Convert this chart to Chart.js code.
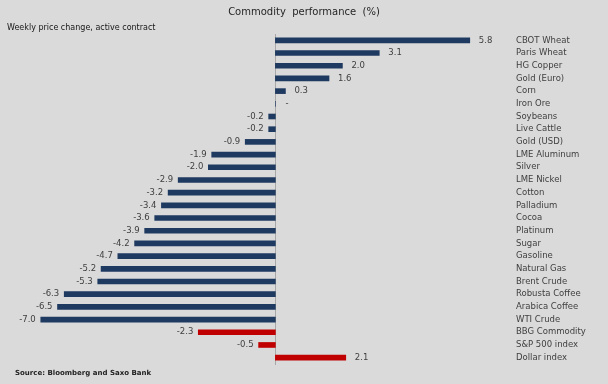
<!DOCTYPE html>
<html>
<head>
<meta charset="utf-8">
<script src="https://cdn.jsdelivr.net/npm/chart.js@4/dist/chart.umd.min.js"></script>
<style>
html,body{margin:0;padding:0;background:#dadada;}
#wrap{width:608px;height:384px;position:relative;}
</style>
</head>
<body>
<div id="wrap"><canvas id="c" width="608" height="384"></canvas></div>
<script>
const categories = ["CBOT Wheat","Paris Wheat","HG Copper","Gold (Euro)","Corn","Iron Ore","Soybeans","Live Cattle","Gold (USD)","LME Aluminum","Silver","LME Nickel","Cotton","Palladium","Cocoa","Platinum","Sugar","Gasoline","Natural Gas","Brent Crude","Robusta Coffee","Arabica Coffee","WTI Crude","BBG Commodity","S&P 500 index","Dollar index"];
const values = [5.8,3.1,2.0,1.6,0.3,0,-0.2,-0.2,-0.9,-1.9,-2.0,-2.9,-3.2,-3.4,-3.6,-3.9,-4.2,-4.7,-5.2,-5.3,-6.3,-6.5,-7.0,-2.3,-0.5,2.1];
const benchmarks = ["BBG Commodity","S&P 500 index","Dollar index"];
const titleText = "Commodity  performance  (%)";
const subtitleText = "Weekly price change, active contract";
const sourceText = "Source: Bloomberg and Saxo Bank";

const NAVY = "#1f3a60", RED = "#c00000";
const barColors = categories.map(c => benchmarks.includes(c) ? RED : NAVY);

const fontFam = "'DejaVu Sans', Verdana, sans-serif";

const decor = {
  id: 'decor',
  beforeDatasetsDraw(chart) {
    const ctx = chart.ctx, x = chart.scales.x, a = chart.chartArea;
    const x0 = Math.round(x.getPixelForValue(0)) + 0.5;
    ctx.save();
    ctx.strokeStyle = '#a8a8a8';
    ctx.lineWidth = 1;
    ctx.beginPath();
    ctx.moveTo(x0, a.top);
    ctx.lineTo(x0, a.bottom + 1);
    ctx.stroke();
    ctx.restore();
  },
  afterDatasetsDraw(chart) {
    const ctx = chart.ctx;
    const meta = chart.getDatasetMeta(0);
    const xs = chart.scales.x;
    ctx.save();
    ctx.font = "8.5px " + fontFam;
    ctx.fillStyle = '#404040';
    ctx.textBaseline = 'middle';
    meta.data.forEach((bar, i) => {
      const v = values[i];
      const y = bar.y;
      if (v > 0) {
        ctx.textAlign = 'left';
        ctx.fillText(v.toFixed(1), bar.x + 9, y);
      } else if (v < 0) {
        ctx.textAlign = 'right';
        ctx.fillText(v.toFixed(1), bar.x - 5, y);
      } else {
        ctx.textAlign = 'left';
        ctx.fillText('-', xs.getPixelForValue(0) + 10, y);
      }
    });
    // titles
    ctx.textAlign = 'center';
    ctx.fillStyle = '#262626';
    ctx.font = "10px " + fontFam;
    ctx.fillText(titleText, 304, 12);
    ctx.textAlign = 'left';
    ctx.fillStyle = '#161616';
    ctx.font = "8px " + fontFam;
    ctx.fillText(subtitleText, 7, 28);
    ctx.font = "bold 7px " + fontFam;
    ctx.fillStyle = '#222222';
    ctx.fillText(sourceText, 15, 373);
    ctx.restore();
  }
};

new Chart(document.getElementById('c'), {
  type: 'bar',
  data: {
    labels: categories,
    datasets: [{
      data: values,
      backgroundColor: barColors,
      borderWidth: 0,
      barThickness: 5
    }]
  },
  options: {
    indexAxis: 'y',
    responsive: false,
    animation: false,
    devicePixelRatio: 1,
    layout: { padding: { left: 24, top: 34, bottom: 20, right: 0 } },
    plugins: { legend: { display: false }, tooltip: { enabled: false } },
    scales: {
      x: {
        display: false,
        min: -7.5,
        max: 7.0
      },
      y: {
        position: 'right',
        grid: { display: false, drawTicks: false },
        border: { display: false },
        ticks: {
          padding: 6,
          autoSkip: false,
          color: '#404040',
          font: { family: fontFam, size: 8.5 },
          crossAlign: 'near'
        },
        afterFit(scale) { scale.width = 98; }
      }
    }
  },
  plugins: [decor]
});
</script>
</body>
</html>
